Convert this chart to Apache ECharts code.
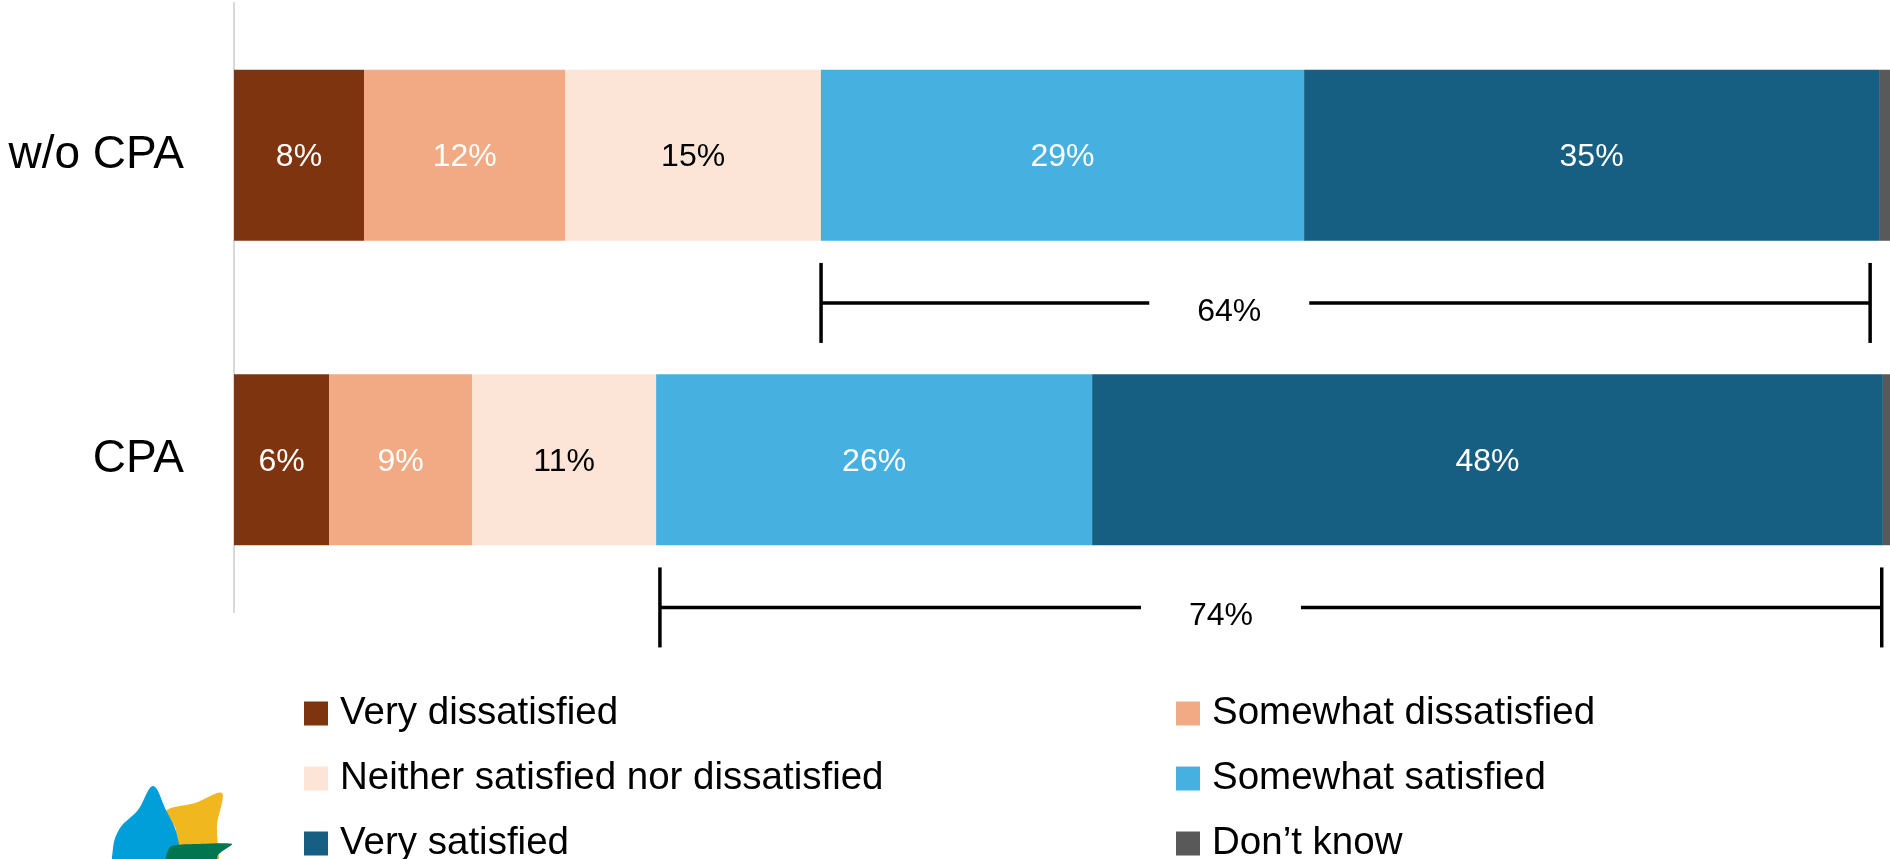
<!DOCTYPE html>
<html>
<head>
<meta charset="utf-8">
<title>Satisfaction w/o CPA vs CPA</title>
<script src="https://cdn.jsdelivr.net/npm/echarts@6/dist/echarts.min.js"></script>
<style>
  html, body { margin: 0; padding: 0; background: #ffffff; }
  #main { width: 1890px; height: 859px; }
</style>
</head>
<body>
<div id="main"></div>
<script>
// categories (top to bottom)
var groups = ['w/o CPA', 'CPA'];

// answer shares in percent, one array per answer
var veryDissatisfied = [7.85, 5.74];
var somewhatDissatisfied = [12.16, 8.64];
var neitherNor = [15.43, 11.11];
var somewhatSatisfied = [29.18, 26.33];
var verySatisfied = [34.72, 47.75];
var dontKnow = [0.66, 0.43];

// brackets for "satisfied" totals
var bracketFrom = [35.45, 25.72];
var bracketTo = [98.8, 99.5];
var bracketLabelAt = [60.1, 59.6];
var bracketLabels = ['64%', '74%'];

var fontName = "'Liberation Sans', Arial, sans-serif";

var answers = [
  { name: 'Very dissatisfied', data: veryDissatisfied, color: '#7F3410', text: '#ffffff' },
  { name: 'Somewhat dissatisfied', data: somewhatDissatisfied, color: '#F2AA84', text: '#ffffff' },
  { name: 'Neither satisfied nor dissatisfied', data: neitherNor, color: '#FCE4D6', text: '#000000' },
  { name: 'Somewhat satisfied', data: somewhatSatisfied, color: '#46B0E0', text: '#ffffff' },
  { name: 'Very satisfied', data: verySatisfied, color: '#165E82', text: '#ffffff' },
  { name: 'Don\u2019t know', data: dontKnow, color: '#595959', text: null }
];

var chart = echarts.init(document.getElementById('main'));

var series = answers.map(function (a) {
  return {
    name: a.name,
    type: 'bar',
    stack: 'total',
    barWidth: 171,
    data: a.data,
    itemStyle: { color: a.color },
    label: {
      show: a.text !== null,
      position: 'inside',
      offset: [0, 2],
      color: a.text,
      fontSize: 32,
      fontFamily: fontName,
      formatter: function (p) { return Math.round(p.value) + '%'; }
    },
    emphasis: { disabled: true },
    silent: true
  };
});

var bracketData = groups.map(function (g, i) {
  return [bracketFrom[i], i, bracketTo[i], bracketLabelAt[i], bracketLabels[i]];
});

series.push({
  type: 'custom',
  name: 'brackets',
  clip: false,
  silent: true,
  data: bracketData,
  encode: { x: [0, 2], y: 1 },
  renderItem: function (params, api) {
    var p0 = api.coord([api.value(0), api.value(1)]);
    var p1 = api.coord([api.value(2), api.value(1)]);
    var pm = api.coord([api.value(3), api.value(1)]);
    var band = api.size([0, 1])[1];
    var y = p0[1] + band * 0.485;
    var half = 40;
    var gap = 80;
    var st = { stroke: '#000000', lineWidth: 3.5 };
    return {
      type: 'group',
      children: [
        { type: 'line', shape: { x1: p0[0], y1: y - half, x2: p0[0], y2: y + half }, style: st },
        { type: 'line', shape: { x1: p1[0], y1: y - half, x2: p1[0], y2: y + half }, style: st },
        { type: 'line', shape: { x1: p0[0], y1: y, x2: pm[0] - gap, y2: y }, style: st },
        { type: 'line', shape: { x1: pm[0] + gap, y1: y, x2: p1[0], y2: y }, style: st },
        {
          type: 'text',
          style: {
            text: api.value(4),
            x: pm[0],
            y: y + 9,
            fill: '#000000',
            font: '32px ' + fontName,
            textAlign: 'center',
            textVerticalAlign: 'middle'
          }
        }
      ]
    };
  }
});

var legendBase = {
  orient: 'vertical',
  top: 694,
  height: 220,
  padding: 0,
  icon: 'rect',
  itemWidth: 24,
  itemHeight: 24,
  itemGap: 26,
  selectedMode: false,
  textStyle: {
    color: '#000000',
    fontSize: 38.5,
    lineHeight: 36,
    fontFamily: fontName,
    padding: [0, 0, 0, 7]
  }
};

var option = {
  backgroundColor: '#ffffff',
  animation: false,
  grid: { left: 234, right: 0, top: 3, height: 609, containLabel: false },
  xAxis: {
    type: 'value',
    min: 0,
    max: 100,
    show: false
  },
  yAxis: {
    type: 'category',
    data: groups,
    inverse: true,
    axisLine: { show: true, lineStyle: { color: '#D9D9D9', width: 2 } },
    axisTick: { show: false },
    axisLabel: { color: '#000000', fontSize: 46, fontFamily: fontName, margin: 50 },
    splitLine: { show: false }
  },
  legend: [
    Object.assign({}, legendBase, {
      left: 304,
      data: ['Very dissatisfied', 'Neither satisfied nor dissatisfied', 'Very satisfied']
    }),
    Object.assign({}, legendBase, {
      left: 1176,
      data: ['Somewhat dissatisfied', 'Somewhat satisfied', 'Don\u2019t know']
    })
  ],
  graphic: [
    // logo fragment, bottom left
    { type: 'polygon', silent: true, shape: { points: [[166, 811], [195, 803], [222, 793], [217, 825], [216, 880], [175, 880], [176, 830]], smooth: 0.3 }, style: { fill: '#F0B71F' } },
    { type: 'polygon', silent: true, shape: { points: [[153, 786], [138, 810], [120, 828], [113, 848], [116, 880], [180, 880], [177, 835], [166, 810]], smooth: 0.35 }, style: { fill: '#009FDA' } },
    { type: 'polygon', silent: true, shape: { points: [[170, 847], [200, 844], [232, 844], [218, 855], [214, 880], [164, 880]], smooth: 0.2 }, style: { fill: '#007550' } }
  ],
  series: series
};

chart.setOption(option);
</script>
</body>
</html>
